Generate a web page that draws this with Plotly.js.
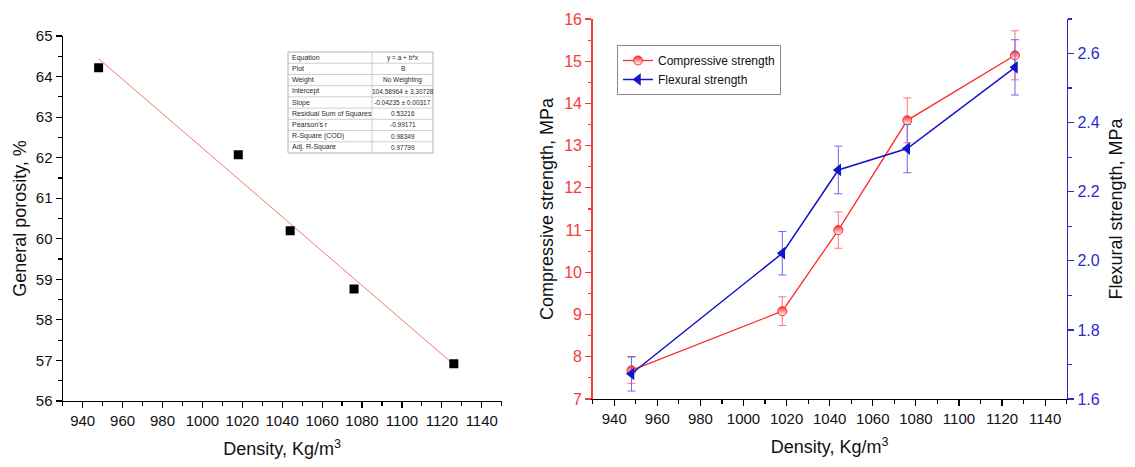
<!DOCTYPE html>
<html>
<head>
<meta charset="utf-8">
<script src="https://cdn.plot.ly/plotly-3.0.1.min.js"></script>
<style>html,body{margin:0;padding:0;background:#fff;}#chart{width:1135px;height:467px;}</style>
</head>
<body>
<div id="chart"></div>
<script>
// ---- data ----
const density = [948, 1018, 1044, 1076, 1126];
const porosity = [64.22, 62.07, 60.2, 58.76, 56.92];
const fitX = [948, 1126];
const fitY = [64.44, 56.90];

const compressive = [7.68, 9.08, 11.0, 13.6, 15.14];
const compressiveErr = [0.31, 0.34, 0.43, 0.53, 0.58];
const flexural = [1.673, 2.022, 2.263, 2.325, 2.56];
const flexuralErr = [0.05, 0.063, 0.069, 0.07, 0.08];

const tableLabels = ["Equation", "Plot", "Weight", "Intercept", "Slope", "Residual Sum of Squares", "Pearson's r", "R-Square (COD)", "Adj. R-Square"];
const tableValues = ["y = a + b*x", "B", "No Weighting", "104.58964 ± 3.30728", "-0.04235 ± 0.00317", "0.53216", "-0.99171", "0.98349", "0.97799"];

const xTitle = "Density, Kg/m<sup>3</sup>";
const porosityTitle = "General porosity, %";
const compTitle = "Compressive strength, MPa";
const flexTitle = "Flexural strength, MPa";
const compName = "Compressive strength";
const flexName = "Flexural strength";

// ---- style ----
const W = 1135, H = 467;
const FONT = "Liberation Sans, Arial, sans-serif";
const RED = "#ff2a2a";
const BLUE = "#1414c8";
const RED_AX = "#f23c3c";
const BLUE_AX = "#2b2bcc";

const traces = [
  {
    x: fitX, y: fitY, xaxis: 'x', yaxis: 'y', mode: 'lines',
    line: {color: '#ee6a5e', width: 0.9}, showlegend: false, hoverinfo: 'skip'
  },
  {
    x: density, y: porosity, xaxis: 'x', yaxis: 'y', mode: 'markers',
    marker: {symbol: 'square', color: '#000', size: 9}, showlegend: false
  },
  {
    x: density, y: compressive, xaxis: 'x2', yaxis: 'y2', mode: 'lines+markers',
    name: compName,
    line: {color: RED, width: 1.3},
    marker: {symbol: 'circle', size: 9, color: RED, line: {color: RED, width: 1},
             gradient: {type: 'vertical', color: '#ffffff'}},
    error_y: {type: 'data', array: compressiveErr, visible: true, color: '#f77', thickness: 1, width: 4}
  },
  {
    x: density, y: flexural, xaxis: 'x2', yaxis: 'y3', mode: 'lines+markers',
    name: flexName,
    line: {color: BLUE, width: 1.5},
    marker: {symbol: 'triangle-left', size: 11, color: BLUE},
    error_y: {type: 'data', array: flexuralErr, visible: true, color: '#6a6af0', thickness: 1, width: 4}
  }
];

// ---- inset results table (shapes + annotations built from the arrays) ----
const tb = {x0: 288, x1: 433, sep: 372, y0: 52, y1: 153};
const px = v => v / W, py = v => 1 - v / H;
const rowH = (tb.y1 - tb.y0) / tableLabels.length;
const shapes = [{
  type: 'rect', xref: 'paper', yref: 'paper',
  x0: px(tb.x0), x1: px(tb.x1), y0: py(tb.y1), y1: py(tb.y0),
  line: {color: '#a0a0a0', width: 0.8}, fillcolor: '#fff', layer: 'above'
}, {
  type: 'line', xref: 'paper', yref: 'paper',
  x0: px(tb.sep), x1: px(tb.sep), y0: py(tb.y1), y1: py(tb.y0),
  line: {color: '#b0b0b0', width: 0.6}, layer: 'above'
}];
const annotations = [];
tableLabels.forEach((lab, i) => {
  const yTop = tb.y0 + i * rowH, yMid = yTop + rowH / 2;
  if (i > 0) shapes.push({
    type: 'line', xref: 'paper', yref: 'paper',
    x0: px(tb.x0), x1: px(tb.x1), y0: py(yTop), y1: py(yTop),
    line: {color: '#b0b0b0', width: 0.6}, layer: 'above'
  });
  annotations.push({
    xref: 'paper', yref: 'paper', x: px(tb.x0 + 2), y: py(yMid),
    xanchor: 'left', yanchor: 'middle', text: lab, showarrow: false,
    font: {family: FONT, size: 7, color: '#2a2a2a'}
  });
  annotations.push({
    xref: 'paper', yref: 'paper', x: px((tb.sep + tb.x1) / 2), y: py(yMid),
    xanchor: 'center', yanchor: 'middle', text: tableValues[i], showarrow: false,
    font: {family: FONT, size: 6.5, color: '#2a2a2a'}
  });
});

const baseX = {
  range: [930, 1150], dtick: 20, tick0: 0,
  showline: true, linecolor: '#000', linewidth: 1.2,
  ticks: 'outside', ticklen: 6, tickwidth: 1.2, tickcolor: '#000',
  minor: {ticks: 'outside', dtick: 10, ticklen: 3.5, tickwidth: 1.2, tickcolor: '#000'},
  showgrid: false, zeroline: false, automargin: false,
  tickfont: {family: FONT, size: 15, color: '#111'}
};

const layout = {
  width: W, height: H,
  margin: {l: 0, r: 0, t: 0, b: 0},
  paper_bgcolor: '#fff', plot_bgcolor: 'rgba(0,0,0,0)',
  font: {family: FONT, color: '#111'},
  shapes: shapes,
  annotations: annotations,
  xaxis: Object.assign({}, baseX, {
    domain: [62.7/W, 501.7/W], anchor: 'y',
    title: {text: xTitle, font: {family: FONT, size: 18, color: '#111'}, standoff: 14}
  }),
  yaxis: {
    domain: [1 - 401/H, 1 - 36/H], anchor: 'x',
    range: [56, 65], dtick: 1, tick0: 0,
    showline: true, linecolor: '#000', linewidth: 1.2,
    ticks: 'outside', ticklen: 6, tickwidth: 1.2, tickcolor: '#000',
    minor: {ticks: 'outside', dtick: 0.5, ticklen: 3.5, tickwidth: 1.2, tickcolor: '#000'},
    showgrid: false, zeroline: false, automargin: false,
    tickfont: {family: FONT, size: 15, color: '#111'},
    title: {text: porosityTitle, font: {family: FONT, size: 18, color: '#111'}, standoff: 4}
  },
  xaxis2: Object.assign({}, baseX, {
    domain: [592.7/W, 1066.7/W], anchor: 'y2',
    title: {text: xTitle, font: {family: FONT, size: 18, color: '#111'}, standoff: 14}
  }),
  xaxis3: {
    overlaying: 'x2', side: 'top', anchor: 'y2',
    range: [930, 1150], dtick: 20, tick0: 0,
    showline: true, linecolor: '#000', linewidth: 1.2,
    ticks: 'inside', ticklen: 6, tickwidth: 1.2, tickcolor: '#000',
    minor: {ticks: 'inside', dtick: 10, ticklen: 3.5, tickwidth: 1.2, tickcolor: '#000'},
    showticklabels: false, showgrid: false, zeroline: false
  },
  yaxis2: {
    domain: [1 - 399/H, 1 - 19/H], anchor: 'x2',
    range: [7, 16], dtick: 1, tick0: 0,
    showline: true, linecolor: RED_AX, linewidth: 1.5,
    ticks: 'outside', ticklen: 6, tickwidth: 1.2, tickcolor: RED_AX,
    minor: {ticks: 'outside', dtick: 0.5, ticklen: 3.5, tickwidth: 1.2, tickcolor: RED_AX},
    showgrid: false, zeroline: false, automargin: false,
    tickfont: {family: FONT, size: 16, color: RED_AX},
    title: {text: compTitle, font: {family: FONT, size: 18, color: '#111'}, standoff: 6}
  },
  yaxis3: {
    overlaying: 'y2', side: 'right', anchor: 'x2',
    range: [1.6, 2.7], dtick: 0.2, tick0: 1.6, tickformat: '.1f',
    showline: true, linecolor: BLUE_AX, linewidth: 1.5,
    ticks: 'outside', ticklen: 6, tickwidth: 1.2, tickcolor: BLUE_AX,
    minor: {ticks: 'outside', dtick: 0.1, ticklen: 3.5, tickwidth: 1.2, tickcolor: BLUE_AX},
    showgrid: false, zeroline: false, automargin: false,
    tickfont: {family: FONT, size: 16, color: BLUE_AX},
    title: {text: flexTitle, font: {family: FONT, size: 18, color: '#111'}, standoff: 10}
  },
  showlegend: true,
  legend: {
    x: 617/W, y: 1 - 45/H, xanchor: 'left', yanchor: 'top',
    bgcolor: '#fff', bordercolor: '#8a8a8a', borderwidth: 1,
    font: {family: FONT, size: 12, color: '#111'},
    tracegroupgap: 0, itemwidth: 30
  }
};

Plotly.newPlot('chart', traces, layout, {displayModeBar: false, staticPlot: true});
</script>
</body>
</html>
